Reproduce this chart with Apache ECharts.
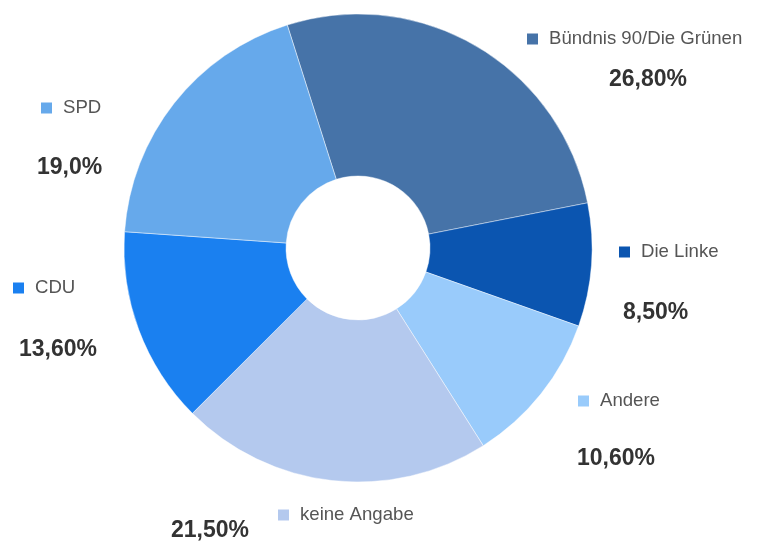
<!DOCTYPE html>
<html>
<head>
<meta charset="utf-8">
<script src="https://cdn.jsdelivr.net/npm/echarts@6/dist/echarts.min.js"></script>
<style>
html,body{margin:0;padding:0;background:#fff;}
#c{width:757px;height:543px;}
</style>
</head>
<body>
<div id="c"></div>
<script>
const categories = ['Bündnis 90/Die Grünen', 'Die Linke', 'Andere', 'keine Angabe', 'CDU', 'SPD'];
const shares = [26.8, 8.5, 10.6, 21.5, 13.6, 19.0];
const shareLabels = ['26,80%', '8,50%', '10,60%', '21,50%', '13,60%', '19,0%'];

const colors = ['#4673a8', '#0b55b0', '#99cbfb', '#b4c9ee', '#1a80f0', '#66a9eb'];
const nameLabelPos = [[527, 39], [619, 252], [578, 401], [278, 515], [13, 288], [41, 108]];
const shareLabelPos = [[609, 80], [623, 313], [577, 459], [171, 531], [19, 350], [37, 168]];

const rich = { t: { fontFamily: 'Liberation Sans, Arial, sans-serif', fontSize: 18.6, color: '#555', padding: [0, 0, 0, 11] } };
colors.forEach((c, i) => { rich['sq' + i] = { width: 11, height: 11, backgroundColor: c }; });

const sliceData = categories.map((n, i) => ({ name: n, value: shares[i], itemStyle: { color: colors[i] } }));
const labelData = categories.map((n, i) => ({ name: n, value: shares[i] }));

const chart = echarts.init(document.getElementById('c'), null, { renderer: 'canvas' });
chart.setOption({
  animation: false,
  backgroundColor: '#fff',
  series: [
    {
      type: 'pie',
      center: [358, 248],
      radius: [72, 234],
      startAngle: 107.6,
      clockwise: true,
      avoidLabelOverlap: false,
      itemStyle: { borderColor: 'rgba(255,255,255,0.45)', borderWidth: 1 },
      label: {
        show: true,
        position: 'outside',
        formatter: p => '{sq' + p.dataIndex + '|}{t|' + p.name + '}',
        rich: rich
      },
      labelLine: { show: false },
      labelLayout: p => ({ x: nameLabelPos[p.dataIndex][0], y: nameLabelPos[p.dataIndex][1], align: 'left', verticalAlign: 'middle' }),
      emphasis: { disabled: true },
      data: sliceData
    },
    {
      type: 'pie',
      center: [358, 248],
      radius: [72, 234],
      startAngle: 107.6,
      clockwise: true,
      silent: true,
      avoidLabelOverlap: false,
      itemStyle: { color: 'rgba(0,0,0,0)' },
      label: {
        show: true,
        position: 'outside',
        formatter: p => shareLabels[p.dataIndex],
        fontFamily: 'Liberation Sans, Arial, sans-serif',
        fontSize: 23,
        fontWeight: 'bold',
        color: '#333'
      },
      labelLine: { show: false },
      labelLayout: p => ({ x: shareLabelPos[p.dataIndex][0], y: shareLabelPos[p.dataIndex][1], align: 'left', verticalAlign: 'middle' }),
      emphasis: { disabled: true },
      data: labelData
    }
  ]
});
</script>
</body>
</html>
